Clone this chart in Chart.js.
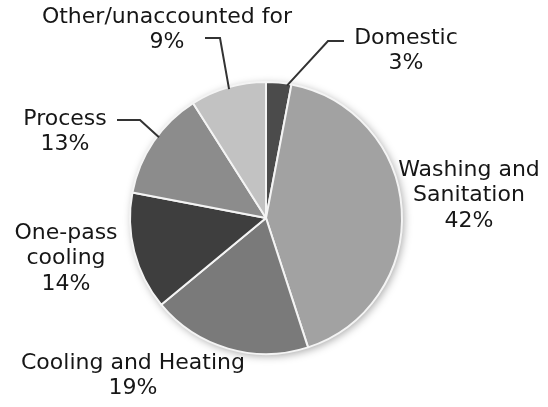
<!DOCTYPE html>
<html>
<head>
<meta charset="utf-8">
<script src="https://cdn.jsdelivr.net/npm/chart.js@4"></script>
<style>
  html, body { margin: 0; padding: 0; background: #fff; }
  #wrap { width: 548px; height: 407px; }
</style>
</head>
<body>
<div id="wrap"><canvas id="chartUsi"></canvas></div>
<script>
// water use by category
var categories = ['Domestic', 'Washing and Sanitation', 'Cooling and Heating', 'One-pass cooling', 'Process', 'Other/unaccounted for'];
var shares = [3, 42, 19, 14, 13, 9];
var sliceColors = ['#4b4b4b', '#a2a2a2', '#7a7a7a', '#3e3e3e', '#8c8c8c', '#c2c2c2'];

// label text lines + where they sit, plus leader lines (angle on the rim, then elbow points)
var labelLines = [
    ['Domestic', '3%'],
    ['Washing and', 'Sanitation', '42%'],
    ['Cooling and Heating', '19%'],
    ['One-pass', 'cooling', '14%'],
    ['Process', '13%'],
    ['Other/unaccounted for', '9%']
];
var labelPos = [
    {x: 406, y: 38},
    {x: 469, y: 170},
    {x: 133, y: 363},
    {x: 66, y: 233},
    {x: 65, y: 119},
    {x: 167, y: 17}
];
var leaders = [
    {angle: 9, pts: [[328, 41], [344, 41]]},
    null, null, null,
    {angle: 307, pts: [[140, 120], [117, 120]]},
    {angle: 344, pts: [[220, 38], [205, 38]]}
];

var labelPlugin = {
    id: 'labelPlugin',
    beforeDatasetsDraw: function (chart) {
        var ctx = chart.ctx;
        var arc = chart.getDatasetMeta(0).data[0];
        ctx.save();
        ctx.beginPath();
        ctx.arc(arc.x, arc.y, arc.outerRadius, 0, Math.PI * 2);
        ctx.shadowColor = 'rgba(0,0,0,0.35)';
        ctx.shadowBlur = 8;
        ctx.shadowOffsetX = 2;
        ctx.shadowOffsetY = 2;
        ctx.fillStyle = '#ffffff';
        ctx.fill();
        ctx.restore();
    },
    afterDatasetsDraw: function (chart) {
        var ctx = chart.ctx;
        var arc = chart.getDatasetMeta(0).data[0];
        ctx.save();
        ctx.font = '22px "DejaVu Sans", sans-serif';
        ctx.fillStyle = '#161616';
        ctx.textAlign = 'center';
        ctx.textBaseline = 'middle';
        for (var i = 0; i < labelLines.length; i++) {
            var p = labelPos[i];
            for (var j = 0; j < labelLines[i].length; j++) {
                ctx.fillText(labelLines[i][j], p.x, p.y + j * 25.5);
            }
        }
        ctx.strokeStyle = '#333';
        ctx.lineWidth = 2;
        for (var k = 0; k < leaders.length; k++) {
            var l = leaders[k];
            if (!l) continue;
            var a = l.angle * Math.PI / 180;
            var r = arc.outerRadius - 2;
            ctx.beginPath();
            ctx.moveTo(arc.x + Math.sin(a) * r, arc.y - Math.cos(a) * r);
            for (var m = 0; m < l.pts.length; m++) {
                ctx.lineTo(l.pts[m][0], l.pts[m][1]);
            }
            ctx.stroke();
        }
        ctx.restore();
    }
};

var configPie = {
    type: 'pie',
    data: {
        labels: categories,
        datasets: [{
            data: shares,
            backgroundColor: sliceColors,
            borderColor: '#f4f4f4',
            borderWidth: 2
        }]
    },
    options: {
        responsive: true,
        maintainAspectRatio: false,
        animation: false,
        layout: { padding: { left: 129, right: 145, top: 81, bottom: 52 } },
        plugins: {
            legend: { display: false },
            tooltip: { enabled: false }
        }
    },
    plugins: [labelPlugin]
};

new Chart(document.getElementById('chartUsi').getContext('2d'), configPie);
</script>
</body>
</html>
